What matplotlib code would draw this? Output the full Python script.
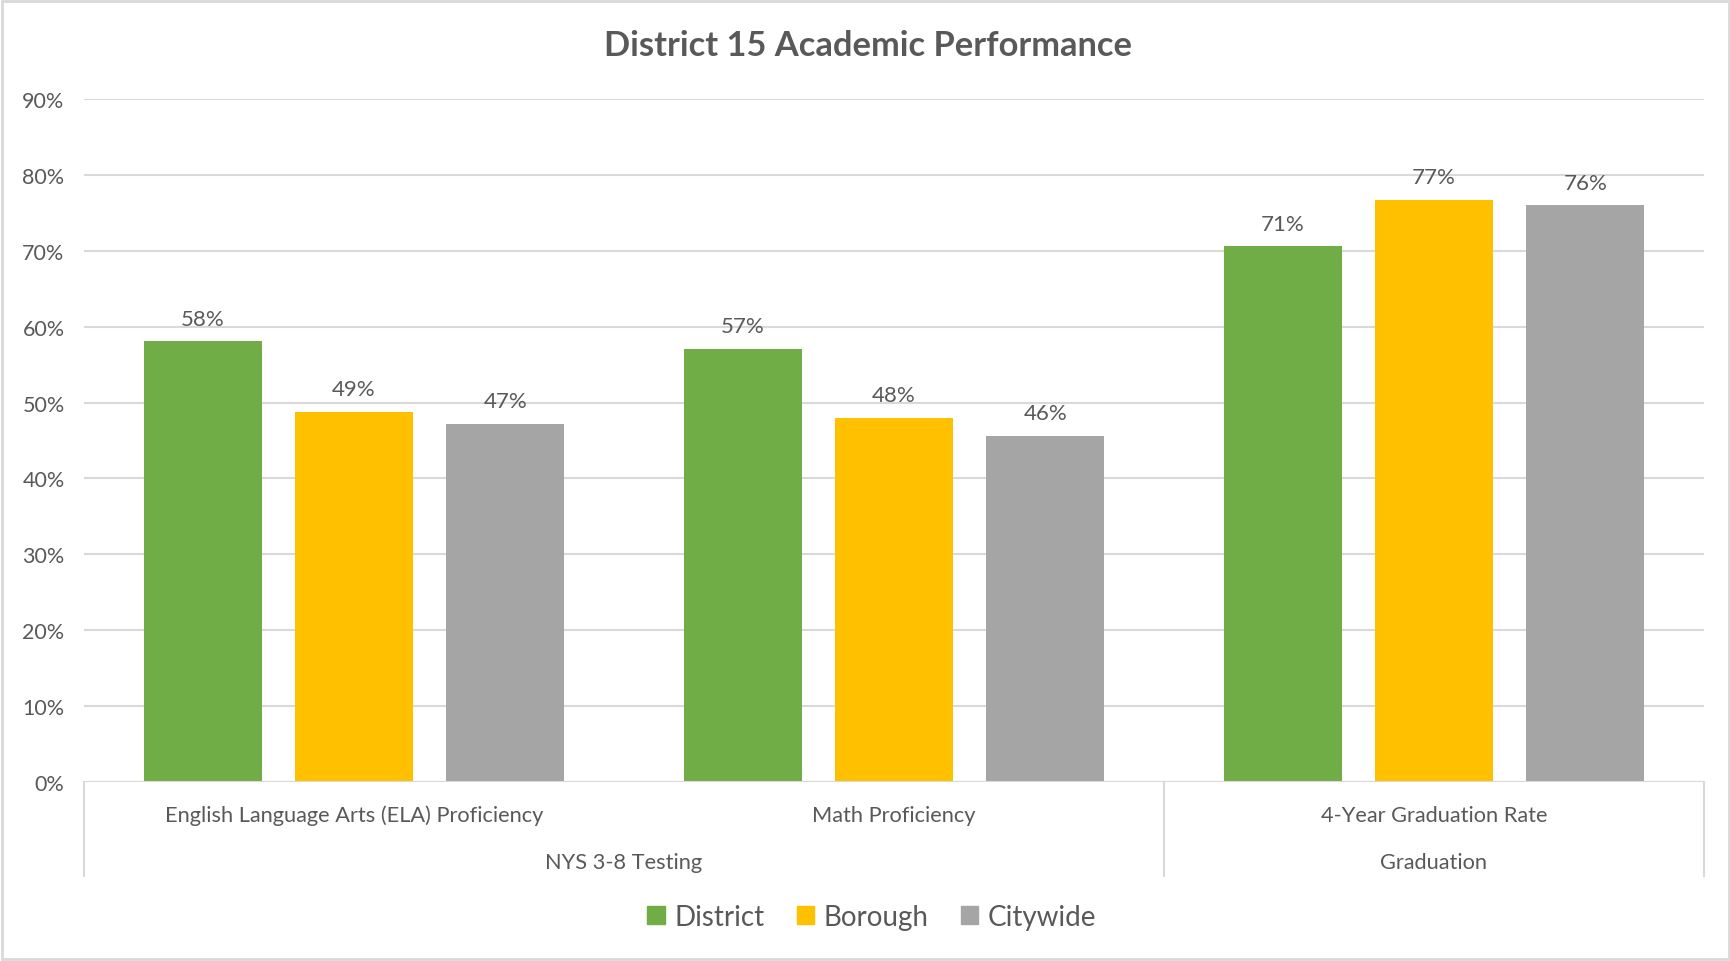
import matplotlib.pyplot as plt
import numpy as np
from matplotlib.patches import Patch, Rectangle
from matplotlib.lines import Line2D

categories = ['English Language Arts (ELA) Proficiency', 'Math Proficiency', '4-Year Graduation Rate']
groups = ['NYS 3-8 Testing', 'Graduation']
group_spans = [(0, 1), (2, 2)]  # first and last category index of each group
series = ['District', 'Borough', 'Citywide']
district = [58.1, 57.1, 70.6]
borough = [48.8, 48.0, 76.7]
citywide = [47.2, 45.6, 76.0]
yticks = [0, 10, 20, 30, 40, 50, 60, 70, 80, 90]

colors = ['#70AD47', '#FFC000', '#A5A5A5']
text_color = '#595959'
line_color = '#D9D9D9'
font = 'Lato'

plt.rcParams['font.family'] = font

fig = plt.figure(figsize=(17.31, 9.62), dpi=100)
ax = fig.add_axes([84 / 1731, 1 - 783 / 962, (1704 - 84) / 1731, (783 - 100) / 962])

x = np.arange(len(categories))
width = 0.2176
step = 0.28
for j, (name, vals) in enumerate(zip(series, [district, borough, citywide])):
    bars = ax.bar(x + (j - 1) * step, vals, width, color=colors[j], label=name, zorder=3)
    ax.bar_label(bars, labels=[f'{round(v)}%' for v in vals], padding=9,
                 fontsize=16, color=text_color)

ax.set_xlim(-0.5, len(categories) - 0.5)
ax.set_ylim(0, 90)
ax.set_yticks(yticks)
ax.set_yticklabels([f'{t}%' for t in yticks])
ax.tick_params(axis='y', length=0, pad=14, labelsize=15.5, labelcolor=text_color)
ax.set_xticks([])
ax.grid(axis='y', color=line_color, linewidth=1.5, zorder=0)
for s in ax.spines.values():
    s.set_visible(False)
ax.axhline(0, color=line_color, linewidth=1.5, zorder=4)

# multi-level category axis
trans = ax.get_xaxis_transform()
bottom = -(877 - 783) / 683
for xb in [-0.5, 1.5, 2.5]:
    ax.add_line(Line2D([xb, xb], [0, bottom], transform=trans, color=line_color,
                       linewidth=1.5, clip_on=False))
for i, cat in enumerate(categories):
    ax.text(i, -(816 - 783) / 683, cat, transform=trans, ha='center', va='center',
            fontsize=15.7, color=text_color)
for g, (a, b) in zip(groups, group_spans):
    ax.text((a + b) / 2, -(863 - 783) / 683, g, transform=trans, ha='center', va='center',
            fontsize=15.7, color=text_color)

fig.text(868 / 1731, 1 - 46 / 962, 'District 15 Academic Performance', ha='center', va='center',
         fontsize=24.8, fontweight='bold', color=text_color)

handles = [Patch(color=c, label=s) for c, s in zip(colors, series)]
fig.legend(handles=handles, loc='center', bbox_to_anchor=(872 / 1731, 1 - 918 / 962), ncol=3,
           frameon=False, fontsize=20, labelcolor=text_color, handlelength=0.62,
           handleheight=0.62, handletextpad=0.36, columnspacing=1.15)

fig.patches.append(Rectangle((0.001, 0.002), 0.998, 0.996, transform=fig.transFigure,
                             fill=False, edgecolor=line_color, linewidth=2))

fig.savefig('out.png', dpi=100, facecolor='white')
